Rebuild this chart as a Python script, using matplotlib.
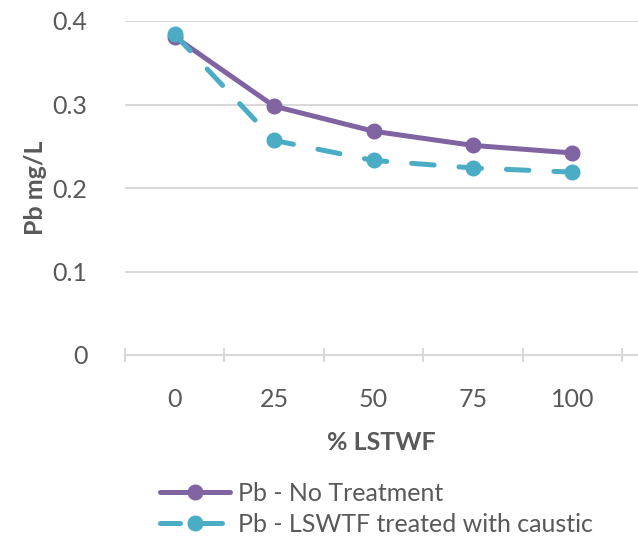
import numpy as np
import matplotlib
matplotlib.use("Agg")
import matplotlib.pyplot as plt

# Данные
lstwf = ["0", "25", "50", "75", "100"]
pb_no_treatment = [0.381, 0.298, 0.268, 0.251, 0.242]
pb_caustic = [0.384, 0.257, 0.233, 0.224, 0.219]

purple = "#8064A2"
cyan = "#4BACC6"
grey_text = "#595959"
grid_col = "#D9D9D9"

plt.rcParams["font.family"] = ["Lato", "DejaVu Sans"]
fs = 18

fig = plt.figure(figsize=(6.38, 5.40), dpi=100)
ax = fig.add_axes([125 / 638, 185 / 540, 513 / 638, 334 / 540])

x = np.arange(len(lstwf))
ax.plot(x, pb_no_treatment, color=purple, lw=3.6, marker="o", ms=10.5,
        solid_capstyle="round", label="Pb - No Treatment", zorder=3)
ax.plot(x, pb_caustic, color=cyan, lw=3.6, marker="o", ms=10.5,
        dashes=(4.5, 5), dash_capstyle="round",
        label="Pb - LSWTF treated with caustic", zorder=4)

ax.set_ylim(0, 0.4)
ax.set_yticks([0, 0.1, 0.2, 0.3, 0.4])
ax.set_yticklabels(["0", "0.1", "0.2", "0.3", "0.4"])
ax.set_xlim(-0.5, -0.5 + 513 / 99.4)
ax.set_xticks(x)
ax.set_xticklabels(lstwf)

# Сетка
ax.grid(axis="y", color=grid_col, lw=1.5)
ax.set_axisbelow(True)
for s in ["top", "right", "left"]:
    ax.spines[s].set_visible(False)
ax.spines["bottom"].set_color(grid_col)
ax.spines["bottom"].set_linewidth(1.5)

ax.tick_params(axis="y", length=0, pad=27, labelsize=fs, labelcolor=grey_text)
ax.tick_params(axis="x", length=0, pad=24, labelsize=fs, labelcolor=grey_text)

# засечки между категориями
ax.set_xticks(np.arange(-0.5, 5, 1), minor=True)
ax.tick_params(axis="x", which="minor", length=10, width=1.5, color=grid_col,
               direction="inout")

ax.set_ylabel("Pb mg/L", fontsize=fs, fontweight="bold", color=grey_text, labelpad=4)
ax.set_xlabel("% LSTWF", fontsize=fs, fontweight="bold", color=grey_text, labelpad=14)

leg = fig.legend(loc="upper left", bbox_to_anchor=(150 / 638, 1 - 472 / 540),
                 frameon=False, fontsize=fs, handlelength=2.8, handletextpad=0.3,
                 labelspacing=0.3, borderaxespad=0)
for t in leg.get_texts():
    t.set_color(grey_text)
# в легенде: штрих - маркер - штрих
leg.get_lines()[1].set_dashes((4.0, 4.4))

fig.savefig("out.png", dpi=100)
